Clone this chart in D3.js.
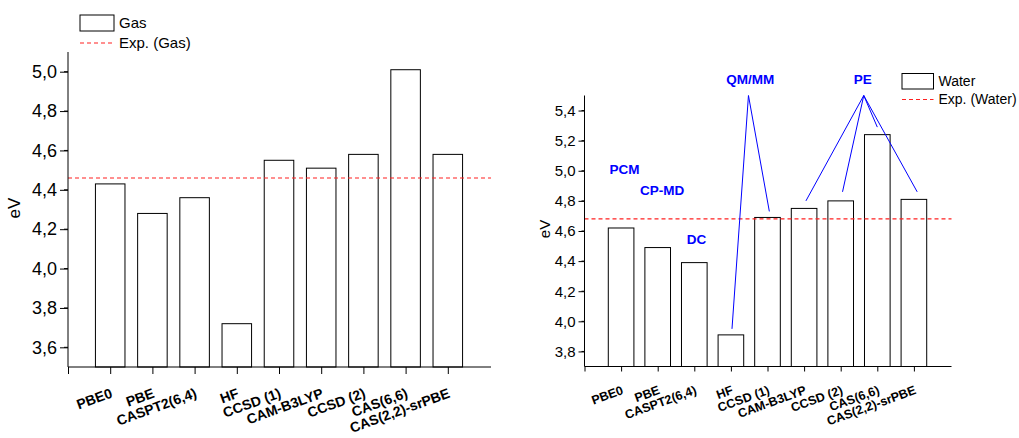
<!DOCTYPE html>
<html>
<head>
<meta charset="utf-8">
<script src="https://cdn.jsdelivr.net/npm/d3@7"></script>
<style>
body{margin:0;background:#fff;}
svg{font-family:"Liberation Sans",Arial,sans-serif;}
</style>
</head>
<body>
<div id="chart"></div>
<script>
var categories = ["PBE0","PBE","CASPT2(6,4)","HF","CCSD (1)","CAM-B3LYP","CCSD (2)","CAS(6,6)","CAS(2,2)-srPBE"];
var gasValues = [4.43,4.28,4.36,3.72,4.55,4.51,4.58,5.01,4.58];
var waterValues = [4.62,4.49,4.39,3.91,4.69,4.75,4.80,5.24,4.81];
var expGas = 4.46, expWater = 4.68;
var gasTicks = [3.6,3.8,4.0,4.2,4.4,4.6,4.8,5.0];
var waterTicks = [3.8,4.0,4.2,4.4,4.6,4.8,5.0,5.2,5.4];
// blue labels on the water panel, in data units (x = category slot, y = eV)
var notes = [
  {text:"PCM", x:1.09, y:5.01},
  {text:"CP-MD", x:2.12, y:4.87},
  {text:"DC", x:3.06, y:4.545},
  {text:"QM/MM", x:4.53, y:5.61},
  {text:"PE", x:7.6, y:5.61}
];
var leaders = [
  {from:[4.48,5.5], to:[5.05,4.73]},
  {from:[4.48,5.5], to:[4.03,3.95]},
  {from:[7.63,5.5], to:[6.05,4.80]},
  {from:[7.63,5.5], to:[7.05,4.86]},
  {from:[7.63,5.5], to:[8.0,5.29]},
  {from:[7.63,5.5], to:[9.09,4.86]}
];

var width = 1019, height = 438;
var svg = d3.select("#chart").append("svg")
  .attr("width", width)
  .attr("height", height);

function comma(v){ return d3.format(".1f")(v).replace(".", ","); }

function panel(opt){
  var x = d3.scaleLinear().domain([0,10]).range([opt.left, opt.right]);
  var y = d3.scaleLinear().domain(opt.domain).range([opt.bottom, opt.top]);
  var g = svg.append("g");

  // bars
  g.selectAll(".bar")
    .data(opt.values)
    .enter()
    .append("rect")
    .attr("x", function(d,i){ return x(i+1-0.35); })
    .attr("y", function(d){ return y(d); })
    .attr("width", x(0.7)-x(0))
    .attr("height", function(d){ return opt.bottom - y(d); })
    .attr("fill", "#fff")
    .style("stroke", "#000")
    .style("stroke-width", 1);

  // experimental line
  g.append("line")
    .attr("x1", opt.left).attr("x2", opt.right+1)
    .attr("y1", y(opt.exp)).attr("y2", y(opt.exp))
    .style("stroke", "#ff2020")
    .style("stroke-width", 1.2)
    .style("stroke-dasharray", "4,3");

  // y axis
  var ya = g.append("g")
    .attr("transform", "translate(" + opt.left + ",0)")
    .call(d3.axisLeft(y).tickValues(opt.ticks).tickSize(opt.tick).tickFormat(comma).tickSizeOuter(0));
  ya.select(".domain").attr("d", "M0," + opt.top + "V" + opt.bottom);
  ya.selectAll("text").attr("font-size", opt.tickFont).attr("fill", "#000").attr("x", -opt.tick-3).attr("font-family", null);
  ya.selectAll("line").style("stroke", "#000");

  var minor = d3.range(opt.domain[0]*10+1, opt.domain[1]*10+1, 2).map(function(d){ return d/10; });
  g.selectAll(".minor")
    .data(minor)
    .enter()
    .append("line")
    .attr("x1", opt.left - opt.tick/2).attr("x2", opt.left)
    .attr("y1", function(d){ return y(d); })
    .attr("y2", function(d){ return y(d); })
    .style("stroke", "#000");

  // x axis
  var xa = g.append("g")
    .attr("transform", "translate(0," + opt.bottom + ")")
    .call(d3.axisBottom(x).tickValues(d3.range(0,10)).tickSize(opt.xtick).tickFormat("").tickSizeOuter(0));
  xa.select(".domain").attr("d", "M" + opt.left + ",0H" + (opt.right+1));
  xa.selectAll("line").style("stroke", "#000");

  g.selectAll(".xlab")
    .data(categories)
    .enter()
    .append("text")
    .attr("transform", function(d,i){ return "translate(" + (x(i+1)+3) + "," + (opt.bottom+opt.labDy) + ") rotate(-20)"; })
    .attr("text-anchor", "end")
    .attr("font-size", opt.labFont)
    .attr("font-weight", "bold")
    .text(function(d){ return d; });

  // axis title
  g.append("text")
    .attr("transform", "translate(" + opt.evX + "," + opt.evY + ") rotate(-90)")
    .attr("text-anchor", "middle")
    .attr("dy", "0.35em")
    .attr("font-size", opt.evFont)
    .text("eV");

  // legend
  var lg = g.append("g").attr("transform", "translate(" + opt.legX + "," + opt.legY + ")");
  lg.append("rect")
    .attr("x", 0).attr("y", 0)
    .attr("width", opt.legW).attr("height", opt.legH)
    .attr("fill", "#fff")
    .style("stroke", "#000").style("stroke-width", 1);
  lg.append("text")
    .attr("x", opt.legW+5).attr("y", opt.legH/2).attr("dy", "0.35em")
    .attr("font-size", opt.legFont)
    .text(opt.name);
  lg.append("line")
    .attr("x1", 0).attr("x2", opt.legW)
    .attr("y1", opt.legH + opt.legGap).attr("y2", opt.legH + opt.legGap)
    .style("stroke", "#ff2020").style("stroke-width", 1.2).style("stroke-dasharray", "4,3");
  lg.append("text")
    .attr("x", opt.legW+5).attr("y", opt.legH + opt.legGap).attr("dy", "0.35em")
    .attr("font-size", opt.legFont)
    .text("Exp. (" + opt.name + ")");

  return {g:g, x:x, y:y};
}

panel({left:68, right:490, top:52, bottom:367, domain:[3.5,5.1], values:gasValues, exp:expGas,
  ticks:gasTicks, tick:8, xtick:7, tickFont:18, labFont:14, labDy:30, evX:14, evY:208, evFont:17,
  legX:80, legY:15, legW:34, legH:16, legGap:12, legFont:15, name:"Gas"});

var w = panel({left:584.5, right:950.5, top:95.5, bottom:366.5, domain:[3.7,5.5], values:waterValues, exp:expWater,
  ticks:waterTicks, tick:6, xtick:5, tickFont:15, labFont:12.5, labDy:27, evX:545, evY:229, evFont:15,
  legX:902, legY:73.5, legW:31.5, legH:15.5, legGap:10.5, legFont:14, name:"Water"});

w.g.selectAll(".leader")
  .data(leaders)
  .enter()
  .append("line")
  .attr("x1", function(d){ return w.x(d.from[0]); })
  .attr("y1", function(d){ return w.y(d.from[1]); })
  .attr("x2", function(d){ return w.x(d.to[0]); })
  .attr("y2", function(d){ return w.y(d.to[1]); })
  .style("stroke", "#0000ff")
  .style("stroke-width", 1);

w.g.selectAll(".note")
  .data(notes)
  .enter()
  .append("text")
  .attr("x", function(d){ return w.x(d.x); })
  .attr("y", function(d){ return w.y(d.y); })
  .attr("dy", "0.35em")
  .attr("text-anchor", "middle")
  .attr("font-size", 13.5)
  .attr("font-weight", "bold")
  .attr("fill", "#0000ff")
  .text(function(d){ return d.text; });
</script>
</body>
</html>
